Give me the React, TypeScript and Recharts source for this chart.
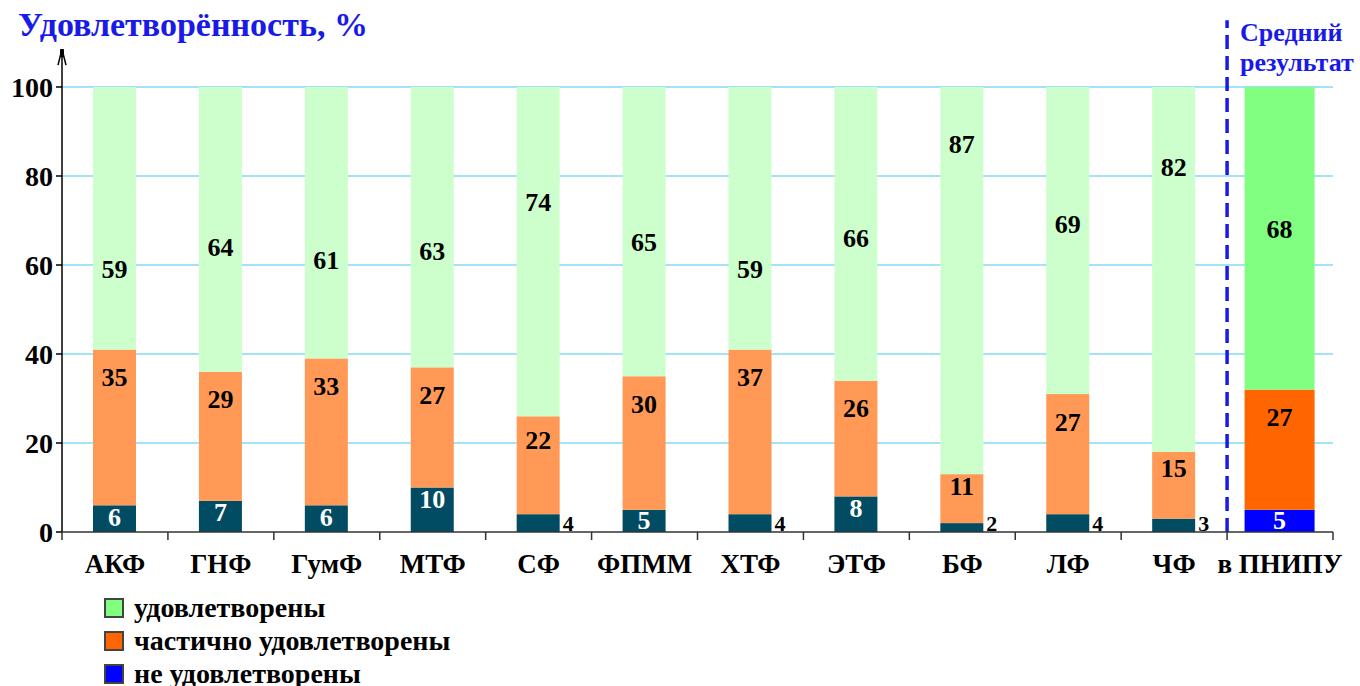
import React from "react";
import {
  BarChart,
  Bar,
  XAxis,
  YAxis,
  CartesianGrid,
  ReferenceLine,
  LabelList,
} from "recharts";

// факультеты + средний результат
const categories = ["АКФ", "ГНФ", "ГумФ", "МТФ", "СФ", "ФПММ", "ХТФ", "ЭТФ", "БФ", "ЛФ", "ЧФ", "в ПНИПУ"];
const notSatisfied = [6, 7, 6, 10, 4, 5, 4, 8, 2, 4, 3, 5];
const partly = [35, 29, 33, 27, 22, 30, 37, 26, 11, 27, 15, 27];
const satisfied = [59, 64, 61, 63, 74, 65, 59, 66, 87, 69, 82, 68];
const yTicks = [0, 20, 40, 60, 80, 100];
const gridValues = [20, 40, 60, 80, 100];
const legendItems = [
  { name: "удовлетворены", color: "#80FF80" },
  { name: "частично удовлетворены", color: "#FF6600" },
  { name: "не удовлетворены", color: "#0000FF" },
];

const data = categories.map((c, i) => ({
  name: c,
  no: notSatisfied[i],
  part: partly[i],
  yes: satisfied[i],
}));

const W = 1360;
const H = 686;
const LEFT = 62;
const RIGHT = 1333;
const BAND = (RIGHT - LEFT) / categories.length;
const LAST = categories.length - 1;
const FONT = "'Liberation Serif', 'Times New Roman', serif";

const colors = {
  no: ["#024C63", "#0000FF"],
  part: ["#FF9955", "#FF6600"],
  yes: ["#CCFFCC", "#80FF80"],
};

// последний столбик шире остальных
const makeShape = (key: "no" | "part" | "yes") => (p: any) => {
  const wide = p.index === LAST;
  const w = wide ? 70 : p.width;
  const x = p.x + p.width / 2 - w / 2;
  return <rect x={x} y={p.y} width={w} height={p.height} fill={colors[key][wide ? 1 : 0]} />;
};

const txt = { fontFamily: FONT, fontWeight: 700, fontSize: 26 };

const NoLabel = (p: any) => {
  const { x, y, width, height, value } = p;
  if (value < 5) {
    return (
      <text x={x + width + 3} y={y + height - 9} dominantBaseline="central" fill="#000" style={{ ...txt, fontSize: 22 }}>
        {value}
      </text>
    );
  }
  return (
    <text x={x + width / 2} y={y + Math.min(height / 2, 12)} textAnchor="middle" dominantBaseline="central" fill="#fff" style={txt}>
      {value}
    </text>
  );
};

const PartLabel = (p: any) => {
  const { x, y, width, height, value } = p;
  return (
    <text x={x + width / 2} y={y + Math.min(28, height * 0.25)} textAnchor="middle" dominantBaseline="central" fill="#000" style={txt}>
      {value}
    </text>
  );
};

const YesLabel = (p: any) => {
  const { x, y, width, height, value } = p;
  const cy = y + height * (100 / value - 1);
  return (
    <text x={x + width / 2} y={cy} textAnchor="middle" dominantBaseline="central" fill="#000" style={txt}>
      {value}
    </text>
  );
};

const XTick = (p: any) => {
  const { x, y, payload, index } = p;
  return (
    <g>
      <line x1={x - BAND / 2} x2={x - BAND / 2} y1={y} y2={y + 8} stroke="#333" strokeWidth={1.5} />
      {index === LAST && <line x1={x + BAND / 2} x2={x + BAND / 2} y1={y} y2={y + 8} stroke="#333" strokeWidth={1.5} />}
      <text x={x} y={y + 32} textAnchor="middle" dominantBaseline="central" fill="#000" style={{ ...txt, fontSize: 27 }}>
        {payload.value}
      </text>
    </g>
  );
};

const ArrowLine = (p: any) => {
  const { x1, y1, y2 } = p;
  const top = Math.min(y1, y2);
  const bottom = Math.max(y1, y2);
  return (
    <g>
      <line x1={x1} x2={x1} y1={bottom} y2={top} stroke="#000" strokeWidth={1.5} />
      <path d={`M${x1 - 4},${top + 16} L${x1},${top} L${x1 + 4},${top + 16}`} fill="none" stroke="#000" strokeWidth={1.5} />
      <rect x={x1 - 2} y={top} width={4} height={8} fill="#000" />
    </g>
  );
};

export default function App() {
  return (
    <div style={{ position: "absolute", left: 0, top: 0, width: W, height: H, background: "#fff" }}>
      <BarChart
        width={W}
        height={H}
        data={data}
        margin={{ top: 10, right: W - RIGHT, left: 10, bottom: 114 }}
        barSize={43}
      >
        <CartesianGrid vertical={false} horizontalValues={gridValues} stroke="#86D9F7" strokeWidth={1.5} />
        <XAxis
          dataKey="name"
          interval={0}
          tickLine={false}
          tickSize={0}
          tickMargin={0}
          height={40}
          axisLine={{ stroke: "#333", strokeWidth: 1.5 }}
          tick={<XTick />}
        />
        <YAxis
          width={52}
          domain={[0, 117.3]}
          ticks={yTicks}
          allowDataOverflow
          axisLine={false}
          tickLine={{ stroke: "#000", strokeWidth: 1.5 }}
          tickSize={6}
          tickMargin={3}
          tick={{ fill: "#000", fontFamily: FONT, fontWeight: 700, fontSize: 28 }}
        />
        <Bar dataKey="no" stackId="a" shape={makeShape("no")} isAnimationActive={false}>
          <LabelList dataKey="no" content={<NoLabel />} />
        </Bar>
        <Bar dataKey="part" stackId="a" shape={makeShape("part")} isAnimationActive={false}>
          <LabelList dataKey="part" content={<PartLabel />} />
        </Bar>
        <Bar dataKey="yes" stackId="a" shape={makeShape("yes")} isAnimationActive={false}>
          <LabelList dataKey="yes" content={<YesLabel />} />
        </Bar>
        <ReferenceLine
          segment={[
            { x: categories[0], y: 0 },
            { x: categories[0], y: 108.5 },
          ]}
          position="start"
          ifOverflow="visible"
          shape={<ArrowLine />}
        />
        <ReferenceLine
          segment={[
            { x: categories[LAST], y: 0 },
            { x: categories[LAST], y: 115 },
          ]}
          position="start"
          ifOverflow="visible"
          stroke="#1A1AE8"
          strokeWidth={3.5}
          strokeDasharray="14 7"
        />
      </BarChart>
      <div
        style={{
          position: "absolute",
          left: 18,
          top: 6,
          fontFamily: FONT,
          fontWeight: 700,
          fontSize: 34,
          lineHeight: "38px",
          color: "#1A1AE8",
          whiteSpace: "nowrap",
        }}
      >
        Удовлетворённость, %
      </div>
      <div
        style={{
          position: "absolute",
          left: 1240,
          top: 18,
          fontFamily: FONT,
          fontWeight: 700,
          fontSize: 26,
          lineHeight: "30px",
          color: "#1A1AE8",
          whiteSpace: "nowrap",
        }}
      >
        Средний
        <br />
        результат
      </div>
      <div style={{ position: "absolute", left: 104, top: 591, fontFamily: FONT, fontWeight: 700, fontSize: 28, color: "#000" }}>
        {legendItems.map((it) => (
          <div key={it.name} style={{ display: "flex", alignItems: "center", height: 33, whiteSpace: "nowrap" }}>
            <span style={{ width: 16, height: 16, background: it.color, border: "2px solid #444", marginRight: 10 }} />
            {it.name}
          </div>
        ))}
      </div>
    </div>
  );
}
